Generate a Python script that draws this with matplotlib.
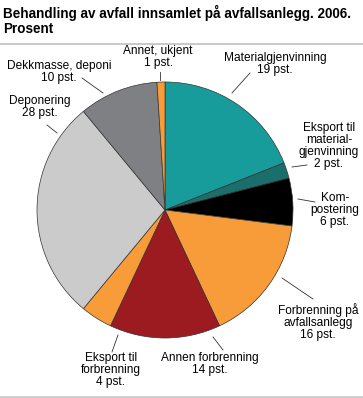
import matplotlib
matplotlib.use("Agg")
import matplotlib.pyplot as plt
from matplotlib.lines import Line2D

plt.rcParams['font.family'] = ['Liberation Sans', 'DejaVu Sans']

categories = ["Materialgjenvinning", "Eksport til material-\ngjenvinning", "Kompostering",
              "Forbrenning på avfallsanlegg", "Annen forbrenning", "Eksport til forbrenning",
              "Deponering", "Dekkmasse, deponi", "Annet, ukjent"]
values = [19, 2, 6, 16, 14, 4, 28, 10, 1]
colors = ["#179c9b", "#1a6e6c", "#000000", "#f89c3a", "#9c1b21", "#f89c3a",
          "#cbcbcb", "#7f8083", "#f89c3a"]
label_texts = ["Materialgjenvinning\n19 pst.",
               "Eksport til\nmaterial-\ngjenvinning\n2 pst.",
               "Kom-\npostering\n6 pst.",
               "Forbrenning på\navfallsanlegg\n16 pst.",
               "Annen forbrenning\n14 pst.",
               "Eksport til\nforbrenning\n4 pst.",
               "Deponering\n28 pst.",
               "Dekkmasse, deponi\n10 pst.",
               "Annet, ukjent\n1 pst."]

W, H = 363, 398
fig = plt.figure(figsize=(W / 100, H / 100), dpi=100)
ax = fig.add_axes([0, 0, 1, 1])

def Y(y):
    return H - y

cx, cy, R = 165, 210, 128
ax.pie(values, colors=colors, startangle=90, counterclock=False,
       center=(cx, Y(cy)), radius=R, frame=True,
       wedgeprops=dict(edgecolor="#333333", linewidth=0.5))
ax.set_xlim(0, W)
ax.set_ylim(0, H)
ax.set_aspect('equal')
ax.axis('off')

# label positions (pixel), leader lines (pixel)
label_pos = [(275, 64), (329, 146), (335, 210), (318, 322), (210, 364),
             (111, 370), (40, 107), (59, 72), (158, 57)]
leaders = [((250, 73), (232, 93)), ((292, 167), (307, 165)), ((298, 199), (315, 202)),
           ((282, 278), (313, 299)), ((213, 337), (223, 350)), ((118, 335), (112, 352)),
           ((47, 125), (57, 133)), ((82, 78), (103, 93)), ((160, 72), (160, 80))]

for txt, (lx, ly), ((x1, y1), (x2, y2)) in zip(label_texts, label_pos, leaders):
    ax.text(lx, Y(ly), txt, ha='center', va='center', fontsize=8.6,
            color='#000000', linespacing=1.02)
    ax.add_line(Line2D([x1, x2], [Y(y1), Y(y2)], color='#333333', linewidth=0.6))

fig.text(3 / W, 1 - 5 / H, "Behandling av avfall innsamlet på avfallsanlegg. 2006.\nProsent",
         ha='left', va='top', fontsize=9.75, fontweight='bold', linespacing=1.05)

ax.add_line(Line2D([0, W], [Y(43.5), Y(43.5)], color='#c8c8c8', linewidth=1.4))
ax.add_line(Line2D([0, W], [Y(396.5), Y(396.5)], color='#c8c8c8', linewidth=1.8))

fig.savefig("out.png", dpi=100)
